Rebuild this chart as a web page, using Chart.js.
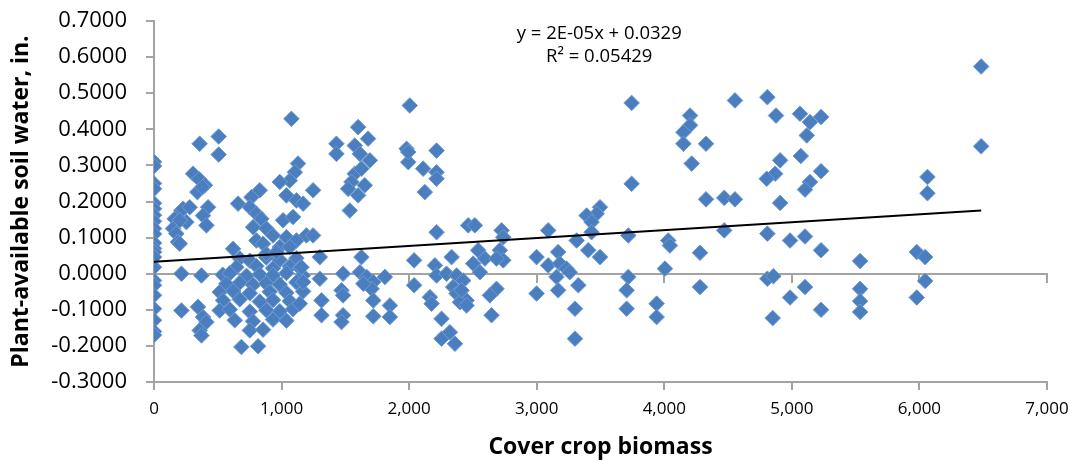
<!DOCTYPE html>
<html>
<head>
<meta charset="utf-8">
<script src="https://cdn.jsdelivr.net/npm/chart.js@4/dist/chart.umd.min.js"></script>
<style>
  html, body { margin: 0; padding: 0; background: #fff; }
  #wrap { width: 1068px; height: 461px; }
</style>
</head>
<body>
<div id="wrap"><canvas id="c" width="1068" height="461"></canvas></div>
<script>
// Cover crop biomass (x) and plant-available soil water, in. (y), one entry per site-year
const biomass = [
  0, 0, 0, 0, 0, 0, 0, 0, 0, 0, 0, 0, 0, 0, 0, 0, 0, 0, 0, 0, 0, 0,
  215, 162, 149, 175, 188, 202, 228, 280, 254, 202, 215, 215, 372, 345, 384, 411, 358, 372,
  358, 507, 507, 306, 353, 400, 340, 380, 424, 384, 411,
  659, 620, 673, 751, 880, 986, 1116, 646, 803, 933, 1064, 1143,
  539, 594, 725, 829, 933, 1038, 1167, 567, 672, 776, 880, 985, 1117,
  515, 620, 751, 907, 1038, 1169, 541, 672, 829, 933, 1064,
  515, 594, 751, 881, 986, 1090, 633, 776, 933, 1038, 751, 855, 685, 816,
  1077, 1129, 1104, 1064, 1038, 1117, 1169, 829, 764, 751, 803, 842, 777, 881, 933,
  1012, 1090, 1038, 1117, 803, 855, 986, 1064, 1195, 881, 960, 986, 1156, 1169, 1143,
  2005, 1600, 1678, 1430, 1430, 1574, 1614, 1692, 1574, 1626, 1548, 1652, 1522, 1600, 1535,
  1247, 1980, 1993, 1993, 2215, 2110, 2215, 2215, 2123, 1247, 2215, 2463,
  1300, 1626, 2039, 2333, 1300, 1482, 1614, 1667, 1719, 1706, 1641, 1810, 1470, 1482,
  2039, 1719, 2202, 2215, 2293, 2372, 2424, 2345, 2372, 2450, 2398, 1313, 2163, 2176,
  1313, 1482, 1470, 1719, 1849, 1849, 2254, 2254, 2319, 2359,
  3744, 2515, 2725, 2738, 3090, 3496, 3470, 3391, 3430, 3430, 3313, 3404, 3496, 3718,
  4031, 4044, 2541, 2594, 2502, 2555, 2711, 2738, 2685, 2999, 3090, 3168, 3181, 3233,
  3155, 3259, 4005, 2411, 2450, 2685, 2633, 2646, 2999, 3168, 3326, 3300, 3300,
  3718, 3705, 3705, 3940, 3940, 3744,
  4202, 4202, 4150, 4150, 4215, 6484, 6484, 6063, 6063, 4554, 4808, 4876, 5064, 5142,
  5229, 5117, 5070, 4327, 4908, 4869, 4803, 5229, 5142, 5103, 4327, 4470, 4554, 4908,
  4470, 4808, 4986, 5103, 5229, 5535, 5979, 6045, 4280, 4280, 4808, 4855, 4986, 5103,
  5229, 4850, 5535, 5535, 5535, 6045, 5979
];
const soilWater = [
  0.310, 0.298, 0.250, 0.235, 0.195, 0.180, 0.162, 0.145, 0.125, 0.110, 0.085, 0.070, 0.060, 0.046, 0.018, -0.019, -0.032, -0.060, -0.097, -0.129, -0.160, -0.170,
  0.175, 0.152, 0.125, 0.111, 0.088, 0.083, 0.180, 0.184, 0.143, 0.148, 0.000, -0.102, -0.005, -0.092, -0.120, -0.134, -0.157, -0.171,
  0.360, 0.380, 0.330, 0.277, 0.262, 0.245, 0.226, 0.240, 0.184, 0.161, 0.134,
  0.194, 0.069, 0.042, 0.036, 0.045, 0.038, 0.043, 0.018, 0.021, 0.015, 0.020, 0.016,
  -0.003, 0.001, -0.006, -0.002, -0.004, 0.002, -0.005, -0.028, -0.025, -0.031, -0.027, -0.030, -0.024,
  -0.051, -0.048, -0.054, -0.050, -0.053, -0.049, -0.074, -0.071, -0.077, -0.073, -0.076,
  -0.102, -0.099, -0.105, -0.101, -0.104, -0.098, -0.129, -0.132, -0.127, -0.130, -0.157, -0.155, -0.203, -0.201,
  0.429, 0.305, 0.281, 0.258, 0.217, 0.203, 0.194, 0.231, 0.212, 0.184, 0.166, 0.152, 0.129, 0.125, 0.106,
  0.148, 0.157, 0.101, 0.092, 0.092, 0.083, 0.074, 0.074, 0.106, 0.055, 0.060, 0.254, 0.018, -0.023, -0.083,
  0.466, 0.406, 0.374, 0.360, 0.332, 0.355, 0.332, 0.314, 0.277, 0.291, 0.254, 0.245, 0.235, 0.217, 0.175,
  0.231, 0.346, 0.309, 0.337, 0.341, 0.291, 0.281, 0.263, 0.226, 0.106, 0.115, 0.134,
  0.046, 0.046, 0.037, 0.046, -0.014, 0.000, 0.004, -0.009, -0.023, -0.042, -0.028, -0.009, -0.046, -0.060,
  -0.032, -0.074, 0.023, -0.005, 0.000, -0.005, -0.019, -0.037, -0.055, -0.074, -0.079, -0.074, -0.065, -0.083,
  -0.115, -0.115, -0.134, -0.118, -0.088, -0.120, -0.125, -0.180, -0.162, -0.194,
  0.249, 0.134, 0.120, 0.101, 0.120, 0.184, 0.166, 0.161, 0.143, 0.115, 0.092, 0.065, 0.046, 0.106,
  0.092, 0.078, 0.065, 0.042, 0.028, 0.004, 0.065, 0.037, 0.042, 0.046, 0.023, 0.060, 0.028, 0.014,
  -0.009, 0.004, 0.014, -0.046, -0.088, -0.042, -0.060, -0.115, -0.055, -0.046, -0.032, -0.097, -0.180,
  -0.009, -0.046, -0.097, -0.083, -0.120, 0.473,
  0.438, 0.411, 0.392, 0.360, 0.305, 0.574, 0.353, 0.268, 0.223, 0.480, 0.489, 0.438, 0.443, 0.420,
  0.434, 0.383, 0.326, 0.360, 0.314, 0.277, 0.263, 0.284, 0.254, 0.233, 0.206, 0.210, 0.206, 0.196,
  0.120, 0.111, 0.092, 0.103, 0.065, 0.035, 0.060, 0.046, 0.058, -0.037, -0.014, -0.007, -0.066, -0.037,
  -0.100, -0.123, -0.042, -0.076, -0.106, -0.020, -0.066
];

// Linear trend fitted to the points
const trendSlope = 0.0000219;
const trendIntercept = 0.0329;
const trendRSquared = 0.05429;
const trendFrom = 0;
const trendTo = 6484;

// Axis ranges and tick spacing
const xMin = 0, xMax = 7000, xStep = 1000;
const yMin = -0.3, yMax = 0.7, yStep = 0.1;

const axisGray = '#A3A3A3';
const fontFamily = '"Open Sans", "Liberation Sans", sans-serif';

function sciLabel(v) {
  const [m, e] = v.toExponential(0).split('e');
  const n = parseInt(e, 10);
  return m.toUpperCase() + 'E' + (n < 0 ? '-' : '+') + String(Math.abs(n)).padStart(2, '0');
}

const points = biomass.map((x, i) => ({ x, y: soilWater[i] }));
const trendPoints = [trendFrom, trendTo].map(x => ({ x, y: trendIntercept + trendSlope * x }));

const equationLines = [
  'y = ' + sciLabel(trendSlope) + 'x + ' + trendIntercept.toFixed(4),
  'R\u00B2 = ' + trendRSquared.toFixed(5)
];

// Writes the trend equation above the plot, anchored in data units
const equationPlugin = {
  id: 'equation',
  afterDatasetsDraw(chart) {
    const { ctx, scales } = chart;
    const cx = scales.x.getPixelForValue(3490);
    ctx.save();
    ctx.fillStyle = '#000';
    ctx.font = '18.5px ' + fontFamily;
    ctx.textAlign = 'center';
    ctx.textBaseline = 'middle';
    ctx.fillText(equationLines[0], cx, scales.y.getPixelForValue(0.666));
    ctx.fillText(equationLines[1], cx, scales.y.getPixelForValue(0.600));
    ctx.restore();
  }
};

// Let the edge tick labels overhang the plot instead of shrinking it
function fixHorizontal(s) {
  s.height = 79;
  s.paddingLeft = 0;
  s.paddingRight = 0;
}
function fixVertical(s) {
  s.width = 154;
  s.paddingTop = 0;
  s.paddingBottom = 0;
}

new Chart(document.getElementById('c'), {
  data: {
    datasets: [
      {
        type: 'line',
        data: trendPoints,
        borderColor: '#000',
        borderWidth: 2,
        pointRadius: 0,
        fill: false,
        order: 0
      },
      {
        type: 'scatter',
        data: points,
        pointStyle: 'rectRot',
        pointRadius: 7.8,
        backgroundColor: '#4A7EBF',
        borderColor: '#709BD0',
        borderWidth: 1,
        order: 1
      }
    ]
  },
  options: {
    responsive: false,
    devicePixelRatio: 1,
    animation: false,
    layout: { padding: { left: 0, top: 21, right: 21, bottom: 0 } },
    plugins: { legend: { display: false }, tooltip: { enabled: false } },
    scales: {
      x: {
        type: 'linear',
        position: 'bottom',
        min: xMin, max: xMax,
        ticks: {
          stepSize: xStep,
          color: '#000',
          font: { family: fontFamily, size: 17 },
          padding: 9,
          callback: v => v.toLocaleString('en-US')
        },
        grid: { drawOnChartArea: false, color: axisGray, tickColor: axisGray, tickLength: 8, lineWidth: 2 },
        border: { display: true, color: axisGray, width: 2 },
        title: {
          display: true,
          text: 'Cover crop biomass',
          color: '#000',
          font: { family: fontFamily, size: 23, weight: 'bold' },
          padding: { top: 0, bottom: 0 }
        },
        afterFit: fixHorizontal
      },
      xZero: {
        type: 'linear',
        position: { y: 0 },
        min: xMin, max: xMax,
        ticks: { stepSize: xStep, display: false },
        grid: { drawOnChartArea: false, color: axisGray, tickColor: axisGray, tickLength: 8, lineWidth: 2 },
        border: { display: true, color: axisGray, width: 2 },
        afterFit: s => { s.paddingLeft = 0; s.paddingRight = 0; }
      },
      y: {
        type: 'linear',
        position: 'left',
        min: yMin, max: yMax,
        ticks: {
          stepSize: yStep,
          color: '#000',
          font: { family: fontFamily, size: 22 },
          padding: 19,
          callback: v => v.toFixed(4)
        },
        grid: { drawOnChartArea: false, color: axisGray, tickColor: axisGray, tickLength: 8, lineWidth: 2 },
        border: { display: true, color: axisGray, width: 2 },
        title: {
          display: true,
          text: 'Plant-available soil water, in.',
          color: '#000',
          font: { family: fontFamily, size: 23, weight: 'bold' },
          padding: { top: 8, bottom: 0 }
        },
        afterFit: fixVertical
      }
    }
  },
  plugins: [equationPlugin]
});
</script>
</body>
</html>
